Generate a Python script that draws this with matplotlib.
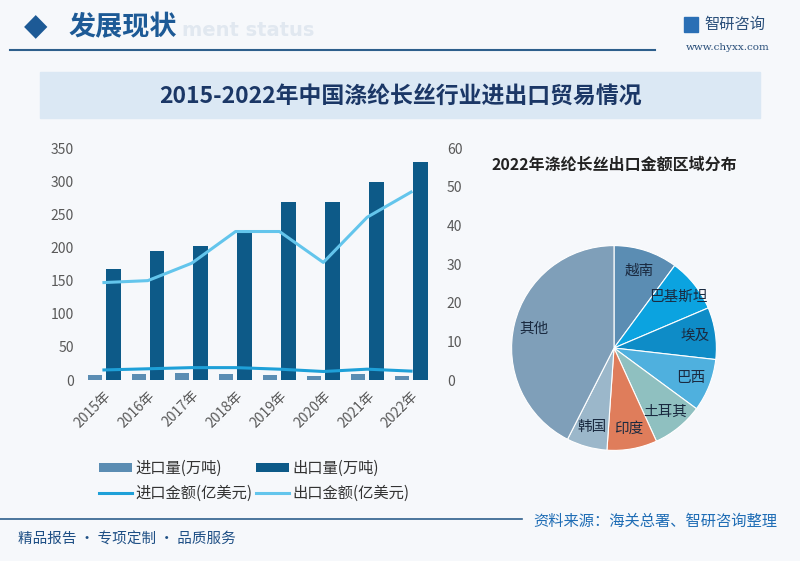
import matplotlib.pyplot as plt
from matplotlib.patches import Rectangle
import numpy as np

plt.rcParams['font.family'] = ['Noto Sans CJK SC', 'DejaVu Sans']
plt.rcParams['axes.unicode_minus'] = False

# 数据
years = ['2015年', '2016年', '2017年', '2018年', '2019年', '2020年', '2021年', '2022年']
import_vol = [7.5, 9.5, 11, 9.5, 7.5, 6, 9.5, 6]           # 进口量(万吨)
export_vol = [167, 195, 202, 227, 268, 269, 298, 329]      # 出口量(万吨)
import_amt = [2.6, 2.9, 3.2, 3.2, 2.8, 2.2, 2.8, 2.3]      # 进口金额(亿美元)
export_amt = [25.2, 25.7, 30.2, 38.4, 38.4, 30.4, 42.1, 48.6]  # 出口金额(亿美元)

regions = ['越南', '巴基斯坦', '埃及', '巴西', '土耳其', '印度', '韩国', '其他']
shares = [10.1, 8.5, 8.2, 8.3, 8.1, 7.9, 6.4, 42.5]
pie_colors = ['#5b8db3', '#0ba3e0', '#0e8cc7', '#4fb0de', '#8fc0c0', '#df7d5b', '#9bb7ca', '#7f9fb9']

W, H = 800, 561
fig = plt.figure(figsize=(8, 5.61), dpi=100, facecolor='#f6f8fb')

def fx(x):
    return x / W

def fy(y):
    return 1 - y / H

# 页眉
fig.text(fx(182), fy(31), 'ment status', fontsize=14, color='#e1e8f0',
         fontweight='bold', va='center', family='DejaVu Sans')
fig.text(fx(24), fy(27), '◆', fontsize=22, color='#1d5a96', va='center', family='DejaVu Sans')
fig.text(fx(68), fy(27), '发展现状', fontsize=19.5, color='#1d5a96', va='center', fontweight='bold')
fig.add_artist(plt.Line2D([fx(10), fx(655)], [fy(50), fy(50)], color='#2e5f8c', lw=1.5))
fig.add_artist(Rectangle((fx(684), fy(32)), fx(14), 15 / H, transform=fig.transFigure,
                         color='#2a6fb5', zorder=1))
fig.text(fx(704), fy(24), '智研咨询', fontsize=11, color='#2a4f7a', va='center')
fig.text(fx(770), fy(47), 'www.chyxx.com', fontsize=7.5, color='#2a4f7a', va='center', ha='right',
         family='DejaVu Serif')

# 标题条
fig.add_artist(Rectangle((fx(40), fy(118)), fx(720), 46 / H, transform=fig.transFigure,
                         color='#dbe8f4', zorder=0))
fig.text(0.5, fy(97), '2015-2022年中国涤纶长丝行业进出口贸易情况', fontsize=16.5,
         color='#1b3766', ha='center', va='center', fontweight='bold')

# 柱线组合图
ax = fig.add_axes([fx(82), fy(380), fx(351), 232 / H])
ax.set_facecolor('none')
x = np.arange(len(years))
b1 = ax.bar(x - 0.21, import_vol, width=0.32, color='#5b8db3', label='进口量(万吨)', zorder=2)
b2 = ax.bar(x + 0.21, export_vol, width=0.34, color='#0d5a88', label='出口量(万吨)', zorder=2)
ax.set_ylim(0, 350)
ax.set_xlim(-0.5, len(years) - 0.5)
ax.set_yticks(range(0, 351, 50))
ax.set_xticks(x)
ax.set_xticklabels(years, rotation=45, ha='right', rotation_mode='anchor', fontsize=10.5)
for s in ax.spines.values():
    s.set_visible(False)
ax.tick_params(length=0, labelsize=10, colors='#595959', pad=6)

ax2 = ax.twinx()
l1, = ax2.plot(x, import_amt, color='#1ea0d8', lw=2.2, label='进口金额(亿美元)', zorder=3)
l2, = ax2.plot(x, export_amt, color='#63c5ec', lw=2.2, label='出口金额(亿美元)', zorder=3)
ax2.set_ylim(0, 60)
ax2.set_yticks(range(0, 61, 10))
for s in ax2.spines.values():
    s.set_visible(False)
ax2.tick_params(length=0, labelsize=10, colors='#595959', pad=10)

fig.legend([b1, l1, b2, l2], ['进口量(万吨)', '进口金额(亿美元)', '出口量(万吨)', '出口金额(亿美元)'],
           ncol=2, loc='center', bbox_to_anchor=(fx(254), fy(481)), frameon=False,
           fontsize=11, handlelength=2.2, handleheight=0.5, columnspacing=0.2,
           handletextpad=0.2, labelspacing=0.55, labelcolor='#333333')

# 饼图
fig.text(fx(614), fy(165), '2022年涤纶长丝出口金额区域分布', fontsize=11.5, color='#222222',
         ha='center', va='center', fontweight='bold')
r = 128
pax = fig.add_axes([fx(614 - r), fy(348 + r), fx(2 * r), 2 * r / H])
pax.pie(shares, labels=regions, colors=pie_colors, startangle=90, counterclock=False,
        labeldistance=0.8, wedgeprops=dict(edgecolor='white', linewidth=0.8),
        textprops=dict(fontsize=10.5, color='#1a2a40', ha='center', va='center'))
pax.set_aspect('equal')

# 页脚
fig.add_artist(plt.Line2D([0, fx(522)], [fy(519), fy(519)], color='#2e5f8c', lw=1.2))
fig.text(fx(533), fy(521), '资料来源：海关总署、智研咨询整理', fontsize=11, color='#1f6db5', va='center')
fig.text(fx(18), fy(540), '精品报告 · 专项定制 · 品质服务', fontsize=10.5, color='#1e4f85', va='center')

fig.savefig('out.png', dpi=100, facecolor=fig.get_facecolor())
